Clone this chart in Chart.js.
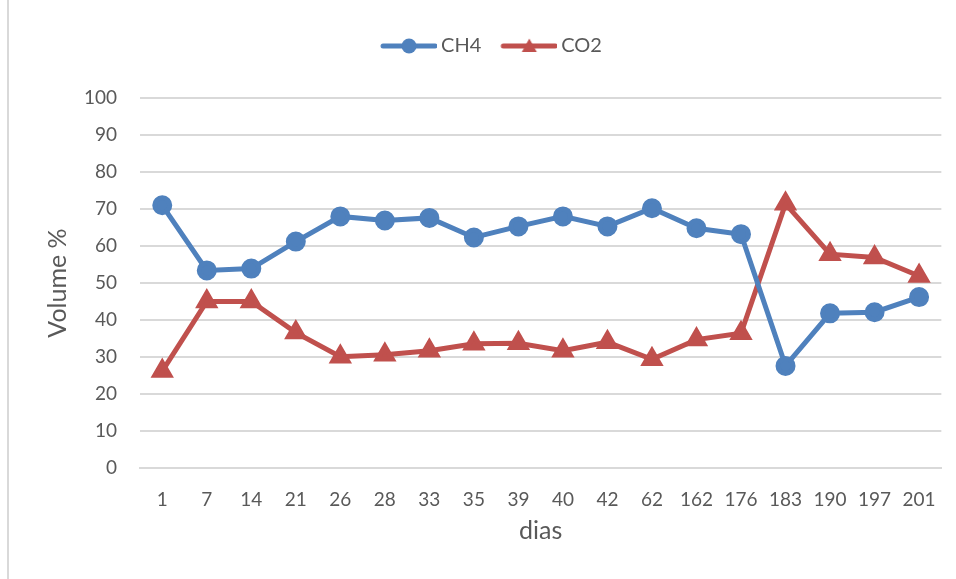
<!DOCTYPE html>
<html>
<head>
<meta charset="utf-8">
<script src="https://cdn.jsdelivr.net/npm/chart.js@4"></script>
<style>
  html, body { margin: 0; padding: 0; background: #fff; }
  #wrap { position: relative; width: 956px; height: 579px; overflow: hidden; }
  #wrap canvas { display: block; }
  #edge { position: absolute; left: 7px; top: 0; width: 2px; height: 579px; background: #d9d9d9; }
</style>
</head>
<body>
<div id="wrap">
  <canvas id="chart" width="956" height="579"></canvas>
  <div id="edge"></div>
</div>
<script>
// eixo x (dias) e valores
const dias = ['1', '7', '14', '21', '26', '28', '33', '35', '39', '40', '42', '62', '162', '176', '183', '190', '197', '201'];
const ch4 = [71.0, 53.4, 53.9, 61.2, 68.0, 66.9, 67.6, 62.3, 65.3, 68.0, 65.3, 70.2, 64.8, 63.2, 27.6, 41.8, 42.1, 46.2];
const co2 = [26.2, 45.0, 45.0, 36.6, 30.1, 30.6, 31.7, 33.6, 33.7, 31.7, 34.0, 29.4, 34.7, 36.4, 71.4, 57.8, 56.9, 51.9];
const yTicks = [0, 10, 20, 30, 40, 50, 60, 70, 80, 90, 100];

const BLUE = '#4f81bd', RED = '#c0504d', TXT = '#595959', GRID = '#d9d9d9';
const FONT = 'Lato, Calibri, "Open Sans", sans-serif';

// legenda: linha + marcador desenhados numa imagem
function legendIcon(color, shape) {
    const c = document.createElement('canvas');
    c.width = 62; c.height = 18;
    const g = c.getContext('2d');
    g.strokeStyle = color; g.fillStyle = color;
    g.lineWidth = 5; g.lineCap = 'round';
    g.beginPath(); g.moveTo(8, 9); g.lineTo(60, 9); g.stroke();
    g.beginPath();
    if (shape === 'circle') g.arc(34, 9, 7.5, 0, Math.PI * 2);
    else { g.moveTo(34, 1.5); g.lineTo(41.5, 15); g.lineTo(26.5, 15); g.closePath(); }
    g.fill();
    return c;
}

// altura fixa da legenda para o topo da área do gráfico ficar no lugar
const legendHeight = {
    id: 'legendHeight',
    beforeLayout(chart) {
        const lg = chart.legend;
        if (lg && !lg._fixed) {
            const fit = lg.fit;
            lg.fit = function() { fit.call(this); this.height = 82; };
            lg._fixed = true;
        }
    }
};

new Chart(document.getElementById('chart'), {
    type: 'line',
    data: {
        labels: dias,
        datasets: [
            { label: 'CH4', data: ch4, borderColor: BLUE, backgroundColor: BLUE, borderWidth: 5,
              pointStyle: 'circle', pointRadius: 7.5, pointHoverRadius: 7.5, tension: 0 },
            { label: 'CO2', data: co2, borderColor: RED, backgroundColor: RED, borderWidth: 5,
              pointStyle: 'triangle', pointRadius: 8.5, pointHoverRadius: 8.5, tension: 0 }
        ]
    },
    plugins: [legendHeight],
    options: {
        responsive: false,
        animation: false,
        layout: { padding: { top: 16, right: 14, left: 41, bottom: 33 } },
        plugins: {
            legend: {
                position: 'top',
                labels: {
                    usePointStyle: true,
                    pointStyleWidth: 50,
                    boxHeight: 16,
                    padding: 20,
                    color: TXT,
                    font: { family: FONT, size: 20 },
                    generateLabels: chart => chart.data.datasets.map((ds, i) => ({
                        text: ds.label,
                        fontColor: TXT,
                        pointStyle: legendIcon(ds.borderColor, i === 0 ? 'circle' : 'triangle'),
                        datasetIndex: i,
                        lineWidth: 0,
                        hidden: false
                    }))
                }
            },
            tooltip: { enabled: false }
        },
        scales: {
            x: {
                offset: true,
                afterFit: s => { s.height = 78; },
                grid: { display: false, drawTicks: false, offset: true },
                border: { color: GRID, width: 2 },
                ticks: { color: TXT, font: { family: FONT, size: 19 }, padding: 20, maxRotation: 0, autoSkip: false },
                title: { display: true, text: 'dias', color: TXT, font: { family: FONT, size: 25 }, padding: { top: 0, bottom: 0 } }
            },
            y: {
                min: 0, max: 100,
                afterBuildTicks: s => { s.ticks = yTicks.map(v => ({ value: v })); },
                afterFit: s => { s.width = 99; },
                grid: { color: GRID, lineWidth: 2, drawTicks: false },
                border: { display: false },
                ticks: { color: TXT, font: { family: FONT, size: 19 }, padding: 23 },
                title: { display: true, text: 'Volume %', color: TXT, font: { family: FONT, size: 25 }, padding: { top: 2, bottom: 0 } }
            }
        }
    }
});
</script>
</body>
</html>
